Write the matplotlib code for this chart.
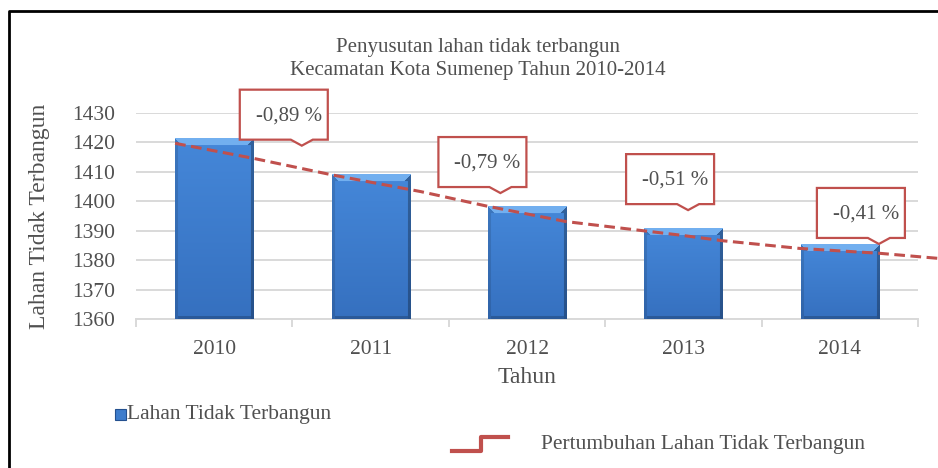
import numpy as np
import matplotlib
matplotlib.use("Agg")
import matplotlib.pyplot as plt
from matplotlib.patches import Polygon, Rectangle
from matplotlib.lines import Line2D
from matplotlib.transforms import IdentityTransform

plt.rcParams.update({
    "font.family": ["Liberation Serif", "DejaVu Serif"],
    "font.size": 15.5,
    "text.color": "#505050",
    "xtick.color": "#505050",
    "ytick.color": "#505050",
    "axes.labelcolor": "#505050",
})

# Data
years = ["2010", "2011", "2012", "2013", "2014"]
lahan = [1421.3, 1409.0, 1398.1, 1390.8, 1385.4]
growth_labels = ["-0,89 %", "-0,79 %", "-0,51 %", "-0,41 %"]
# dashed trend line (category index, value)
trend_x = [-0.25, 0.25, 0.76, 1.32, 1.74, 2.25, 2.98, 3.25, 3.74, 4.26, 4.63]
trend_y = [1419.7, 1414.6, 1408.9, 1403.3, 1398.4, 1393.1, 1388.5, 1386.6, 1384.0, 1382.3, 1380.6]
# where each callout points (category index, value)
callout_x = [0.56, 1.83, 3.03, 4.25]
callout_y = [1418.9, 1402.8, 1397.0, 1385.5]

RED = "#C0504D"
GRID = "#D9D9D9"
W, H = 938, 468

fig = plt.figure(figsize=(W / 100, H / 100), dpi=100)
fig.patch.set_facecolor("white")
ax = fig.add_axes([136 / W, 149 / H, 782 / W, 206 / H])

x = np.arange(len(years))
bars = ax.bar(x, lahan, width=0.5, bottom=0, color="#3D7CCC", zorder=2)
ax.set_xlim(-0.5, 4.5)
ax.set_ylim(1360, 1430)
fig.canvas.draw()


def bevel_image(wpx, hpx):
    # vertical gradient with a light bevel on top and darker sides
    t = np.linspace(0, 1, hpx)[:, None]
    top = np.array([0.27, 0.53, 0.85])
    bot = np.array([0.21, 0.44, 0.75])
    img = top[None, None, :] * (1 - t[..., None]) + bot[None, None, :] * t[..., None]
    img = np.repeat(img, wpx, axis=1)
    b = 7
    for r in range(hpx):
        for c in range(wpx):
            if r < b and r <= c <= wpx - 1 - r:
                img[r, c] = [0.45, 0.69, 0.94]
            elif c < 3 or (r < b and c < r):
                img[r, c] = img[r, c] * 0.88
            elif c > wpx - 4 or (r < b and c > wpx - 1 - r):
                img[r, c] = img[r, c] * 0.72
            elif r > hpx - 4:
                img[r, c] = img[r, c] * 0.80
    return np.clip(img, 0, 1)


for i, bar in enumerate(bars):
    x0, x1 = bar.get_x(), bar.get_x() + bar.get_width()
    p0 = ax.transData.transform((x0, 1360))
    p1 = ax.transData.transform((x1, lahan[i]))
    wpx = max(int(round(p1[0] - p0[0])), 10)
    hpx = max(int(round(p1[1] - p0[1])), 10)
    ax.imshow(bevel_image(wpx, hpx), extent=(x0, x1, 1360, lahan[i]),
              aspect="auto", zorder=3, interpolation="bilinear")

ax.set_xlim(-0.5, 4.5)
ax.set_ylim(1360, 1430)

ax.plot(trend_x, trend_y, color=RED, lw=2.2, linestyle=(0, (3.5, 1.8)),
        zorder=4, clip_on=False)

# axes styling
ax.set_yticks(np.arange(1360, 1431, 10))
ax.yaxis.grid(True, color=GRID, lw=1.4, zorder=0)
ax.set_axisbelow(True)
for s in ["top", "right", "left"]:
    ax.spines[s].set_visible(False)
ax.spines["bottom"].set_color(GRID)
ax.spines["bottom"].set_linewidth(1.4)
ax.set_xticks(x)
ax.set_xticklabels(years)
ax.set_xticks(np.arange(-0.5, 5, 1), minor=True)
ax.tick_params(axis="x", which="major", length=0, pad=15)
ax.tick_params(axis="x", which="minor", length=6, color=GRID, width=1.4)
ax.tick_params(axis="y", length=0, pad=15)

ax.set_xlabel("Tahun", va="center", fontsize=17)
ax.xaxis.set_label_coords(0.5, -0.282)
ax.set_ylabel("Lahan Tidak Terbangun", va="center", ha="center", fontsize=17)
ax.yaxis.set_label_coords(-0.123, 0.5)

fig.text(478 / W, 1 - 59 / H,
         "Penyusutan lahan tidak terbangun\nKecamatan Kota Sumenep Tahun 2010-2014",
         ha="center", va="center", linespacing=1.3, fontsize=15)

# callout boxes
fig.canvas.draw()
ident = IdentityTransform()
for cx, cy, lab in zip(callout_x, callout_y, growth_labels):
    px, py = ax.transData.transform((cx, cy))
    L, R = px - 62, px + 26
    B = py + 6
    T = B + 50
    verts = [(L, B), (px - 11, B), (px, py), (px + 11, B), (R, B), (R, T), (L, T)]
    fig.add_artist(Polygon(verts, closed=True, facecolor="white", edgecolor=RED,
                           lw=1.6, transform=ident, zorder=5))
    fig.text(L + 49, T - 26, lab, ha="center", va="center", transform=ident,
             zorder=6, fontsize=15)

# legend
fig.add_artist(Rectangle((115, H - 420), 11, 11, facecolor="#3D7CCC",
                         edgecolor="#24508F", lw=0.8, transform=ident))
fig.text(127, H - 415, "Lahan Tidak Terbangun", ha="left", va="center",
         transform=ident)
fig.add_artist(Line2D([452, 481, 481, 508], [H - 451, H - 451, H - 437, H - 437],
                      color=RED, lw=3, transform=ident))
fig.text(541, H - 445, "Pertumbuhan Lahan Tidak Terbangun", ha="left",
         va="center", transform=ident)

# outer frame (left and top only, the rest is cut off)
fig.add_artist(Line2D([9, 9, W], [0, H - 11, H - 11], color="black", lw=2,
                      transform=ident))

fig.savefig("out.png", dpi=100)
